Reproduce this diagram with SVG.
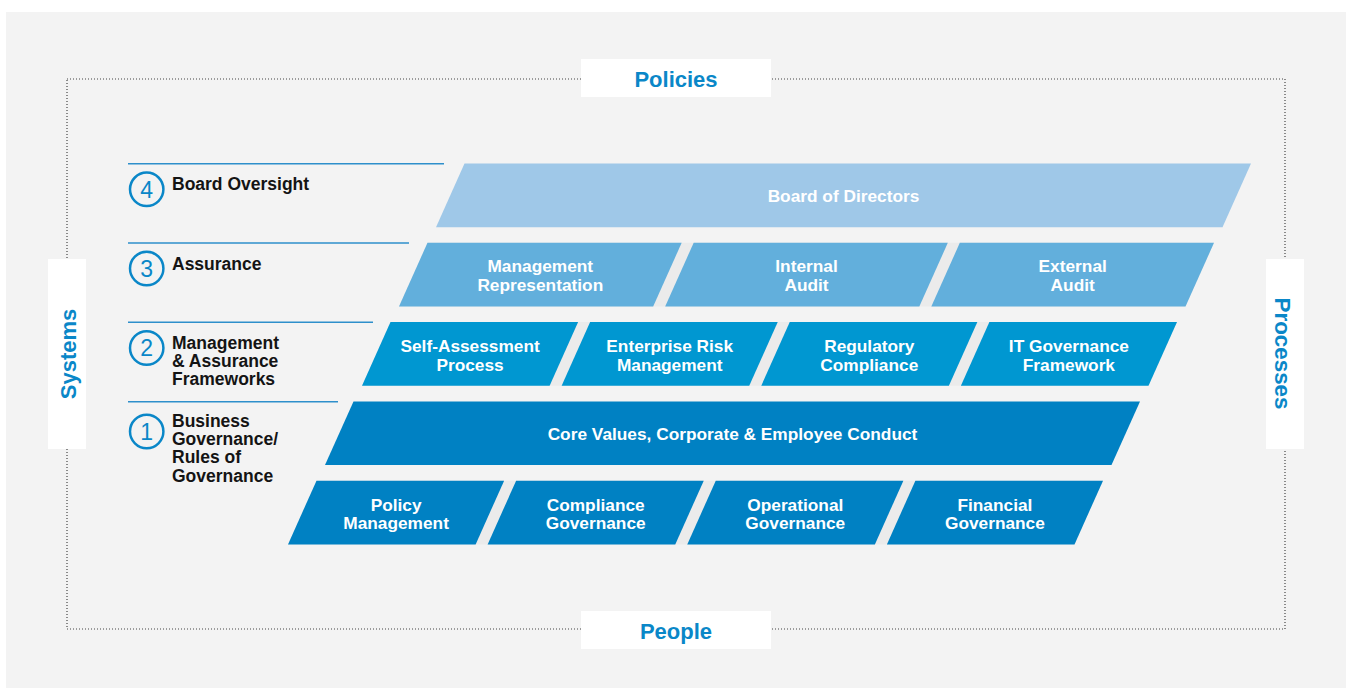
<svg xmlns="http://www.w3.org/2000/svg" width="1346" height="688" viewBox="0 0 1346 688">
<style>
.lbl{font-family:"Liberation Sans",Arial,sans-serif;font-weight:bold;font-size:17.3px;fill:#ffffff;text-anchor:middle}
.row{font-family:"Liberation Sans",Arial,sans-serif;font-weight:bold;font-size:17.5px;fill:#141414}
.num{font-family:"Liberation Sans",Arial,sans-serif;font-size:23px;fill:#0a87c8;text-anchor:middle}
.circ{fill:none;stroke:#0a87c8;stroke-width:2.5}
.rule{stroke:#2e8fcb;stroke-width:1.5}
.side{font-family:"Liberation Sans",Arial,sans-serif;font-weight:bold;font-size:22px;fill:#0a87c8;text-anchor:middle}
.gap{fill:#ebebeb}
.r4{fill:#9fc8e8}.r3{fill:#62afdc}.r2{fill:#0097d1}.r1{fill:#0081c3}.r0{fill:#0081c3}
</style>
<rect x="0" y="0" width="1346" height="688" fill="#ffffff"/>
<rect x="6" y="12" width="1340" height="676" fill="#f3f3f3"/>
<rect x="67" y="79" width="1218" height="550" fill="none" stroke="#444" stroke-width="1.2" stroke-dasharray="1 2"/>

<g id="policies"><rect x="581" y="59" width="190" height="38" fill="#fff"/><text class="side" x="676" y="87">Policies</text></g>
<g id="people"><rect x="581" y="611" width="190" height="38" fill="#fff"/><text class="side" x="676" y="639">People</text></g>
<g id="systems"><rect x="48" y="259" width="38" height="190" fill="#fff"/><text class="side" transform="translate(75.5,354) rotate(-90)" x="0" y="0">Systems</text></g>
<g id="processes"><rect x="1266" y="259" width="38" height="190" fill="#fff"/><text class="side" transform="translate(1274.5,353.5) rotate(90)" x="0" y="0" textLength="112" lengthAdjust="spacingAndGlyphs">Processes</text></g>

<g id="connectors">
<line class="rule" x1="128" y1="163.7" x2="444" y2="163.7"/>
<line class="rule" x1="128" y1="243" x2="409" y2="243"/>
<line class="rule" x1="128" y1="322.3" x2="373" y2="322.3"/>
<line class="rule" x1="128" y1="401.7" x2="338" y2="401.7"/>
</g>

<g id="level4"><circle class="circ" cx="146.7" cy="189.3" r="16.7"/><text class="num" x="146.7" y="197.5">4</text><text class="row" x="172" y="190">Board Oversight</text></g>
<g id="level3"><circle class="circ" cx="146.7" cy="268.5" r="16.7"/><text class="num" x="146.7" y="276.7">3</text><text class="row" x="172" y="270">Assurance</text></g>
<g id="level2"><circle class="circ" cx="146.7" cy="348" r="16.7"/><text class="num" x="146.7" y="356.2">2</text><text class="row" x="172" y="349">Management</text><text class="row" x="172" y="367">&amp; Assurance</text><text class="row" x="172" y="385">Frameworks</text></g>
<g id="level1"><circle class="circ" cx="146.7" cy="431.5" r="16.7"/><text class="num" x="146.7" y="439.7">1</text><text class="row" x="172" y="427">Business</text><text class="row" x="172" y="445">Governance/</text><text class="row" x="172" y="463">Rules of</text><text class="row" x="172" y="482">Governance</text></g>

<g id="board"><polygon class="r4" points="464.5,163.5 1251,163.5 1222.5,227.2 436,227.2"/><text class="lbl" x="843.5" y="201.8">Board of Directors</text></g>

<polygon class="gap" points="427.5,242.8 1214,242.8 1185.5,306.5 399,306.5"/>
<g id="mgmt-rep"><polygon class="r3" points="427.5,242.8 681.67,242.8 653.17,306.5 399,306.5"/><text class="lbl" x="540.3" y="272.1">Management</text><text class="lbl" x="540.3" y="291.1">Representation</text></g>
<g id="internal-audit"><polygon class="r3" points="693.67,242.8 947.83,242.8 919.33,306.5 665.17,306.5"/><text class="lbl" x="806.5" y="272.1">Internal</text><text class="lbl" x="806.5" y="291.1">Audit</text></g>
<g id="external-audit"><polygon class="r3" points="959.83,242.8 1214,242.8 1185.5,306.5 931.33,306.5"/><text class="lbl" x="1072.7" y="272.1">External</text><text class="lbl" x="1072.7" y="291.1">Audit</text></g>

<polygon class="gap" points="390.5,322.1 1177,322.1 1148.5,385.8 362,385.8"/>
<g id="self-assessment"><polygon class="r2" points="390.5,322.1 578.13,322.1 549.63,385.8 362,385.8"/><text class="lbl" x="470.1" y="351.5">Self-Assessment</text><text class="lbl" x="470.1" y="370.5">Process</text></g>
<g id="erm"><polygon class="r2" points="590.13,322.1 777.75,322.1 749.25,385.8 561.63,385.8"/><text class="lbl" x="669.7" y="351.5">Enterprise Risk</text><text class="lbl" x="669.7" y="370.5">Management</text></g>
<g id="regulatory"><polygon class="r2" points="789.75,322.1 977.38,322.1 948.88,385.8 761.25,385.8"/><text class="lbl" x="869.3" y="351.5">Regulatory</text><text class="lbl" x="869.3" y="370.5">Compliance</text></g>
<g id="it-gov"><polygon class="r2" points="989.38,322.1 1177,322.1 1148.5,385.8 960.88,385.8"/><text class="lbl" x="1068.9" y="351.5">IT Governance</text><text class="lbl" x="1068.9" y="370.5">Framework</text></g>

<g id="core-values"><polygon class="r1" points="353.5,401.4 1140,401.4 1111.5,465.1 325,465.1"/><text class="lbl" x="732.5" y="439.8">Core Values, Corporate &amp; Employee Conduct</text></g>

<polygon class="gap" points="316.5,480.7 1103,480.7 1074.5,544.4 288,544.4"/>
<g id="policy-mgmt"><polygon class="r0" points="316.5,480.7 504.13,480.7 475.63,544.4 288,544.4"/><text class="lbl" x="396.1" y="510.5">Policy</text><text class="lbl" x="396.1" y="529">Management</text></g>
<g id="compliance-gov"><polygon class="r0" points="516.13,480.7 703.75,480.7 675.25,544.4 487.63,544.4"/><text class="lbl" x="595.7" y="510.5">Compliance</text><text class="lbl" x="595.7" y="529">Governance</text></g>
<g id="operational-gov"><polygon class="r0" points="715.75,480.7 903.38,480.7 874.88,544.4 687.25,544.4"/><text class="lbl" x="795.3" y="510.5">Operational</text><text class="lbl" x="795.3" y="529">Governance</text></g>
<g id="financial-gov"><polygon class="r0" points="915.38,480.7 1103,480.7 1074.5,544.4 886.88,544.4"/><text class="lbl" x="994.9" y="510.5">Financial</text><text class="lbl" x="994.9" y="529">Governance</text></g>
</svg>
